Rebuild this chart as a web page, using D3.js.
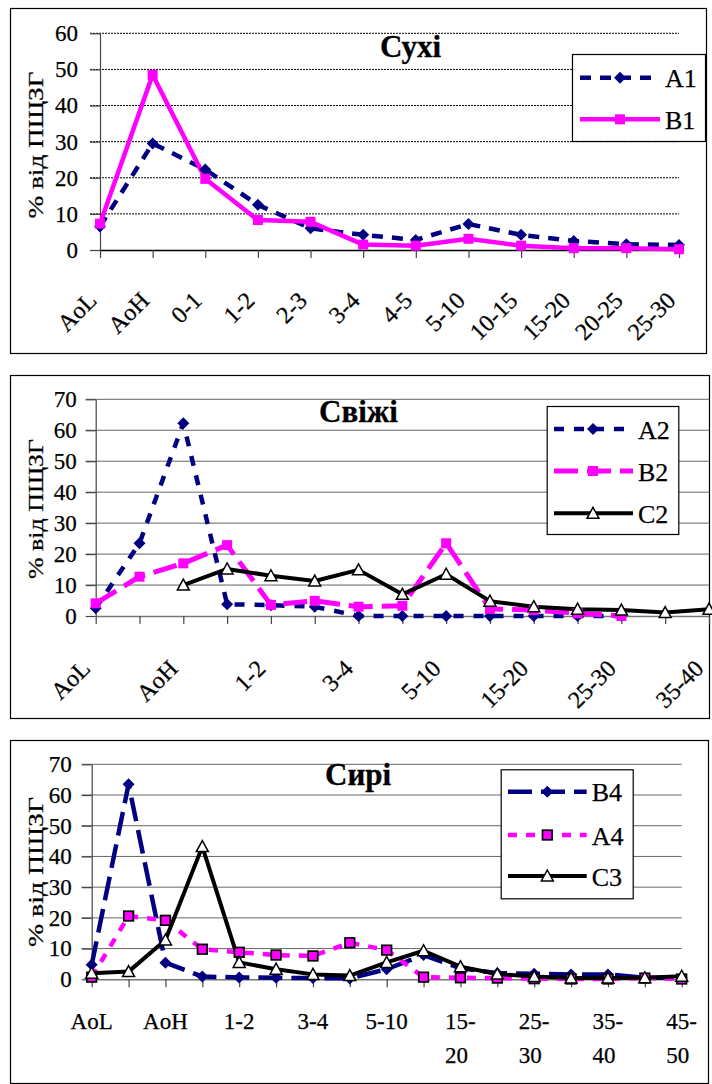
<!DOCTYPE html>
<html><head><meta charset="utf-8">
<script src="https://cdnjs.cloudflare.com/ajax/libs/d3/7.8.5/d3.min.js"></script>
<style>
body{margin:0;background:#fff}
svg{display:block}
</style>
</head><body>
<svg id="c" width="712" height="1084"></svg>
<script>
// ---------- Panel 1: Сухі ----------
const cats1 = ["AoL","AoH","0-1","1-2","2-3","3-4","4-5","5-10","10-15","15-20","20-25","25-30"];
const yTicks1 = [0,10,20,30,40,50,60];
const valsA1 = [6.5,29.5,22.3,12.5,6.0,4.2,2.8,7.2,4.2,2.5,1.6,1.4];
const valsB1 = [7.3,48.5,19.7,8.3,7.8,1.5,1.2,3.1,1.2,0.5,0.5,0.2];
const shown1 = ["AoL","AoH","0-1","1-2","2-3","3-4","4-5","5-10","10-15","15-20","20-25","25-30"];

// ---------- Panel 2: Свіжі ----------
const cats2 = ["AoL","AoF","AoH","0-1","1-2","2-3","3-4","4-5","5-10","10-15","15-20","20-25","25-30","30-35","35-40"];
const yTicks2 = [0,10,20,30,40,50,60,70];
const valsA2 = [2.5,23.5,62.3,3.8,3.5,3.0,0,0,0,0,0,0,0,null,null];
const valsB2 = [4.1,12.7,17.0,22.9,3.6,4.9,3.0,3.3,23.5,2.3,1.9,0.9,0,null,null];
const valsC2 = [null,null,10.0,15.2,13.0,11.3,14.9,7.0,13.5,4.8,3.0,2.2,1.9,1.1,2.2];
const shown2 = ["AoL","AoH","1-2","3-4","5-10","15-20","25-30","35-40"];

// ---------- Panel 3: Сирі ----------
const cats3 = ["AoL","AoF","AoH","0-1","1-2","2-3","3-4","4-5","5-10","10-15","15-20","20-25","25-30","30-35","35-40","40-45","45-50"];
const yTicks3 = [0,10,20,30,40,50,60,70];
const valsB4 = [4.7,63.5,5.4,0.9,0.6,0.5,0.4,0.3,3.3,7.9,3.6,2.0,1.8,1.6,1.6,0.5,0.5];
const valsA4 = [0.7,20.6,19.2,9.8,8.8,7.9,7.6,11.9,9.5,0.7,0.5,0.4,0.2,0.1,0.1,0.4,0.1];
const valsC3 = [2.0,2.5,12.8,43.2,5.5,3.3,1.6,1.2,5.5,9.3,4.1,1.7,0.9,0.4,0.4,0.5,1.0];
const shown3 = {"AoL":["AoL"],"AoH":["AoH"],"1-2":["1-2"],"3-4":["3-4"],"5-10":["5-10"],
  "15-20":["15-","20"],"25-30":["25-","30"],"35-40":["35-","40"],"45-50":["45-","50"]};

const yLabel = "% від ПЩЗГ";
const NAVY = "#000080", MAG = "#FF00FF", BLK = "#000000";
const FONT = '"Liberation Serif", "Times New Roman", serif';

const svg = d3.select("#c");

function txt(sel, size, bold) {
  return sel.style("font-family", FONT).style("font-size", size + "px")
    .style("font-weight", bold ? "bold" : "normal").style("fill", "#000")
    .style("stroke", "#000").style("stroke-width", bold ? "0.3px" : "0.25px");
}

function marker(g, type, color, cx, cy) {
  if (type === "diamond") {
    g.append("path").attr("d", "M0,-6L6,0L0,6L-6,0Z")
      .attr("transform", `translate(${cx},${cy})`).attr("fill", color);
  } else if (type === "square") {
    g.append("rect").attr("x", cx-5).attr("y", cy-5).attr("width", 10).attr("height", 10).attr("fill", color);
  } else if (type === "squareB") {
    g.append("rect").attr("x", cx-4.8).attr("y", cy-4.8).attr("width", 9.6).attr("height", 9.6)
      .attr("fill", color).attr("stroke", "#000").attr("stroke-width", 1.7);
  } else if (type === "triangle") {
    g.append("path").attr("d", "M0,-6L6,5L-6,5Z")
      .attr("transform", `translate(${cx},${cy})`).attr("fill", "#fff")
      .attr("stroke", "#000").attr("stroke-width", 1.5);
  }
}

function panel(cfg) {
  const g = svg.append("g");
  const [bx0, by0, bx1, by1] = cfg.box;
  g.append("rect").attr("x", bx0+0.5).attr("y", by0+0.5).attr("width", bx1-bx0).attr("height", by1-by0)
    .attr("fill", "#fff").attr("stroke", "#000").attr("stroke-width", 1.2);

  const x = d3.scalePoint().domain(cfg.cats).range(cfg.xr);
  const y = d3.scaleLinear().domain([0, d3.max(cfg.yTicks)]).range([cfg.y0, cfg.yTop]);

  // gridlines
  g.append("g").selectAll("line").data(cfg.yTicks.filter(t => t > 0)).join("line")
    .attr("x1", cfg.xr[0]-10).attr("x2", cfg.xr[1])
    .attr("y1", d => y(d)).attr("y2", d => y(d))
    .attr("stroke", cfg.gridColor).attr("stroke-width", 1)
    .attr("stroke-dasharray", cfg.gridDash || null);

  // y axis
  const ya = g.append("g").attr("transform", `translate(${cfg.xr[0]},0)`)
    .call(d3.axisLeft(y).tickValues(cfg.yTicks).tickSize(10).tickSizeOuter(0)
      .tickPadding(cfg.tickPad).tickFormat(d3.format("d")));
  ya.select(".domain").attr("stroke", "#444").attr("stroke-width", 1.2);
  ya.selectAll(".tick line").attr("stroke", "#444").attr("stroke-width", 1.2);
  txt(ya.selectAll(".tick text"), 23, false);

  // x axis
  const xa = g.append("g").attr("transform", `translate(0,${cfg.y0})`)
    .call(d3.axisBottom(x).tickSize(8).tickSizeOuter(0).tickFormat(""));
  xa.select(".domain").attr("stroke", cfg.xAxisColor).attr("stroke-width", 1.5);
  xa.selectAll(".tick line").attr("stroke", "#444").attr("stroke-width", 1.2);

  // x labels
  if (cfg.rotLabels) {
    cfg.shown.forEach(c => {
      txt(g.append("text"), 24, false).attr("text-anchor", "end")
        .attr("transform", `translate(${x(c)+cfg.lblDx},${cfg.y0+cfg.lblDy}) rotate(-45)`)
        .text(c);
    });
  } else {
    Object.keys(cfg.shown).forEach(c => {
      const lines = cfg.shown[c];
      const t = txt(g.append("text"), 23, false).attr("text-anchor", "start");
      lines.forEach((ln, i) => t.append("tspan").attr("y", cfg.y0 + 50 + i*34).text(ln));
      const tmp = txt(g.append("text"), 23, false).text(lines[0]);
      const w = tmp.node().getComputedTextLength(); tmp.remove();
      t.selectAll("tspan").attr("x", x(c) - w/2);
    });
  }

  // y label
  txt(g.append("text"), 21, false).attr("text-anchor", "middle")
    .attr("transform", `translate(43,${cfg.yLabelY}) rotate(-90)`)
    .attr("textLength", cfg.yLabelLen).attr("lengthAdjust", "spacingAndGlyphs")
    .text(yLabel);

  // series
  cfg.series.forEach(s => {
    const pts = cfg.cats.map((c, i) => ({c, v: s.vals[i]}));
    const line = d3.line().defined(d => d.v != null).x(d => x(d.c)).y(d => y(d.v));
    g.append("path").attr("d", line(pts)).attr("fill", "none")
      .attr("stroke", s.color).attr("stroke-width", s.width)
      .attr("stroke-dasharray", s.dash || null).attr("stroke-linejoin", "round");
  });
  cfg.series.forEach(s => {
    cfg.cats.forEach((c, i) => { if (s.vals[i] != null) marker(g, s.marker, s.markerColor || s.color, x(c), y(s.vals[i])); });
  });

  // title
  txt(g.append("text"), 31, true).attr("x", cfg.title[1]).attr("y", cfg.title[2]).text(cfg.title[0]);

  // legend
  const [lx0, ly0, lx1, ly1] = cfg.legend.box;
  g.append("rect").attr("x", lx0+0.5).attr("y", ly0+0.5).attr("width", lx1-lx0).attr("height", ly1-ly0)
    .attr("fill", "#fff").attr("stroke", "#000").attr("stroke-width", 1.2);
  cfg.series.forEach((s, i) => {
    const ry = cfg.legend.rows[i];
    g.append("line").attr("x1", cfg.legend.line[0]).attr("x2", cfg.legend.line[1])
      .attr("y1", ry).attr("y2", ry).attr("stroke", s.color).attr("stroke-width", s.width)
      .attr("stroke-dasharray", s.dash || null);
    marker(g, s.marker, s.markerColor || s.color, cfg.legend.mx, ry);
    txt(g.append("text"), 26, false).attr("x", cfg.legend.tx).attr("y", ry + 9.5).text(s.name);
  });
}

panel({
  box: [10, 8, 706, 353], cats: cats1, shown: shown1, rotLabels: true, lblDx: -2, lblDy: 52,
  xr: [100, 679], y0: 250, yTop: 33.3, yTicks: yTicks1, tickPad: 12,
  gridColor: "#000", gridDash: "2,1", xAxisColor: "#000",
  yLabelY: 145, yLabelLen: 147,
  title: ["Сухі", 380, 57.3],
  legend: {box: [572, 54, 705, 141], rows: [77.7, 119.3], line: [580, 660], mx: 620, tx: 665},
  series: [
    {name: "A1", vals: valsA1, color: NAVY, width: 4.5, dash: "11,9", marker: "diamond"},
    {name: "B1", vals: valsB1, color: MAG, width: 4.5, dash: null, marker: "square"}
  ]
});

panel({
  box: [10, 375, 709, 718], cats: cats2, shown: shown2, rotLabels: true, lblDx: -4, lblDy: 54,
  xr: [95.7, 709], y0: 616, yTop: 399.3, yTicks: yTicks2, tickPad: 9,
  gridColor: "#666", xAxisColor: "#777",
  yLabelY: 509, yLabelLen: 140,
  title: ["Свіжі", 319, 421.7],
  legend: {box: [546.7, 406, 678.3, 534], rows: [429, 471, 513.3], line: [554, 633], mx: 593, tx: 638},
  series: [
    {name: "A2", vals: valsA2, color: NAVY, width: 4.5, dash: "10,10", marker: "diamond"},
    {name: "B2", vals: valsB2, color: MAG, width: 5, dash: "24,9", marker: "square"},
    {name: "C2", vals: valsC2, color: BLK, width: 4, dash: null, marker: "triangle"}
  ]
});

panel({
  box: [10, 740, 708, 1083], cats: cats3, shown: shown3, rotLabels: false,
  xr: [91.7, 681.7], y0: 979.3, yTop: 764.3, yTicks: yTicks3, tickPad: 10,
  gridColor: "#666", xAxisColor: "#777",
  yLabelY: 872, yLabelLen: 150,
  title: ["Сирі", 325, 785],
  legend: {box: [500.7, 769.3, 632.7, 898.3], rows: [791.7, 835, 876], line: [508, 586.7], mx: 547.3, tx: 591.7},
  series: [
    {name: "B4", vals: valsB4, color: NAVY, width: 4.5, dash: "24,9", marker: "diamond"},
    {name: "A4", vals: valsA4, color: MAG, width: 4.5, dash: "9,9", marker: "squareB"},
    {name: "C3", vals: valsC3, color: BLK, width: 4, dash: null, marker: "triangle"}
  ]
});
</script>
</body></html>
